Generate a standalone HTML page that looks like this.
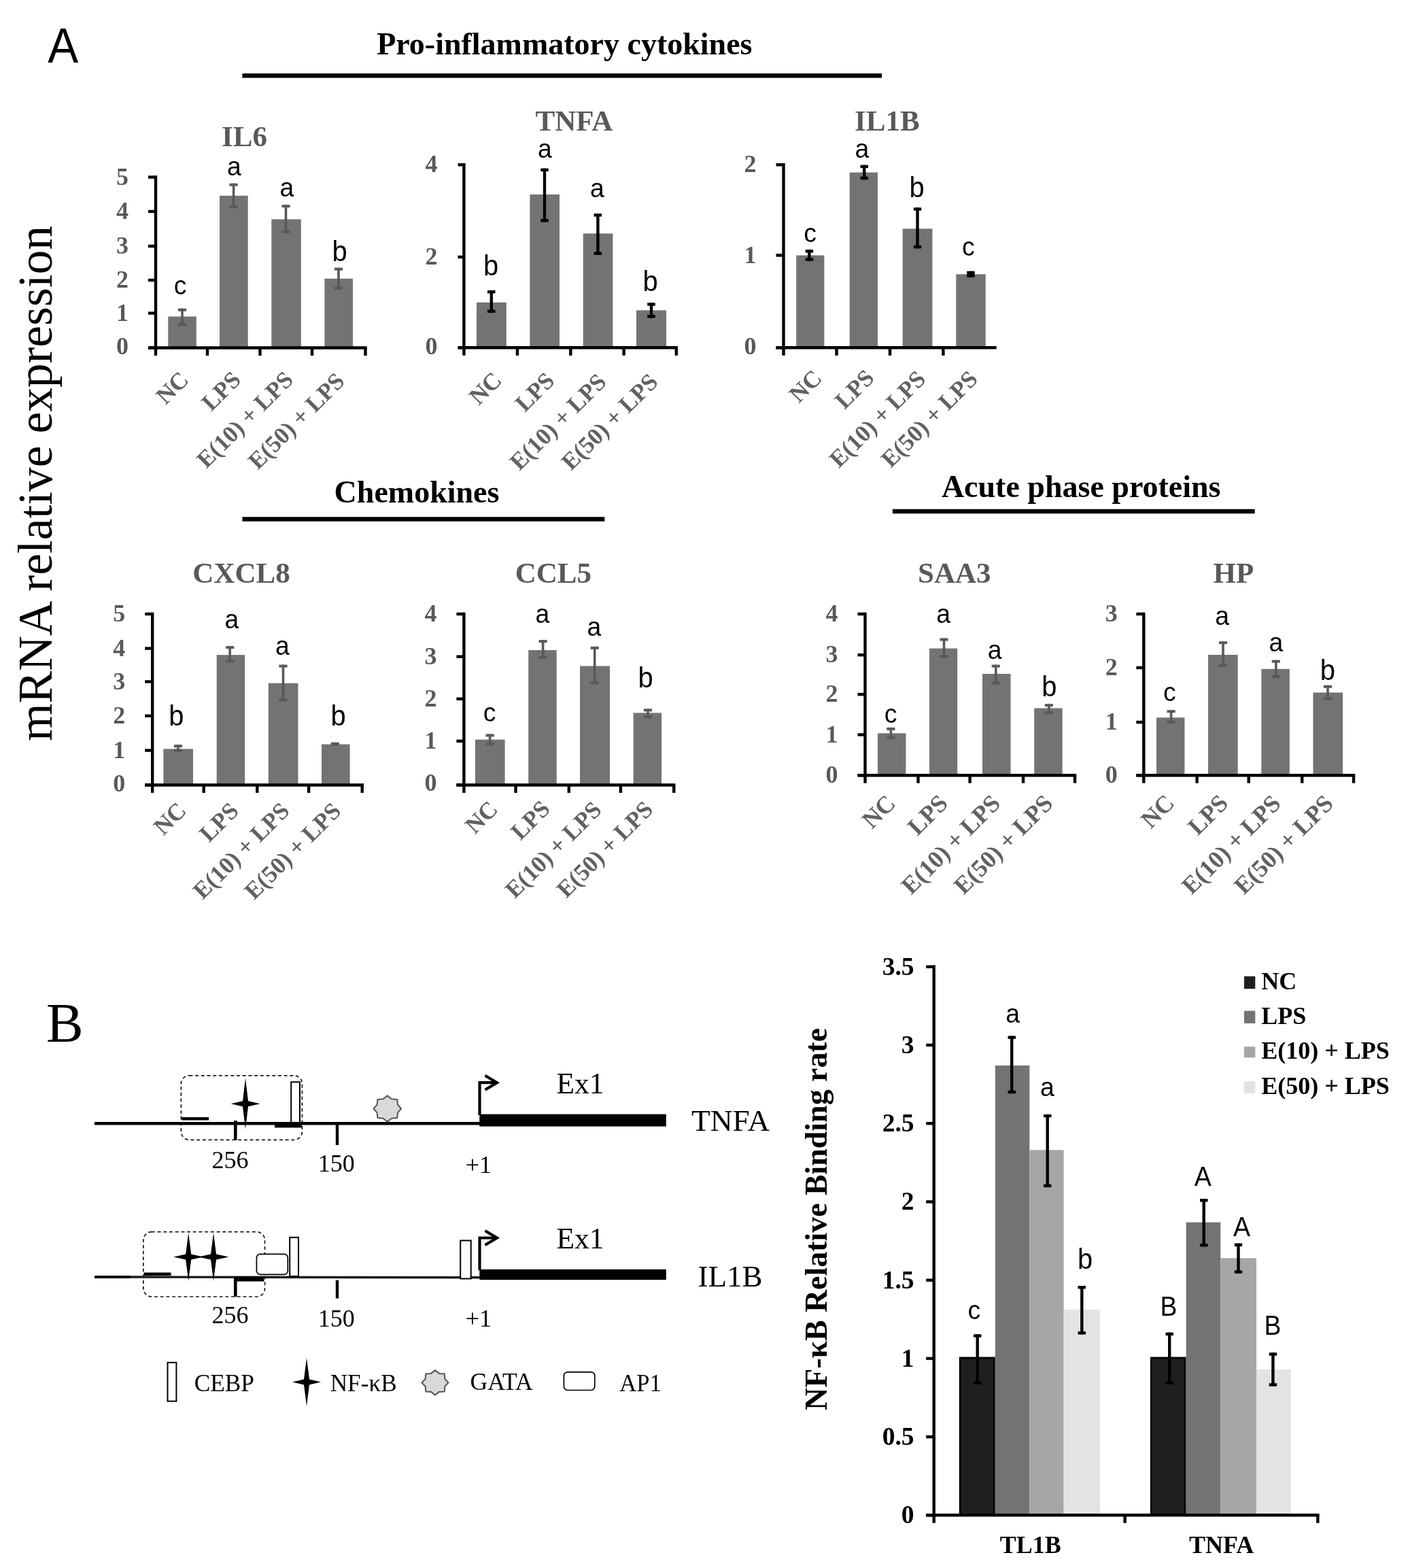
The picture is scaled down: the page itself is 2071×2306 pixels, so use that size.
<!DOCTYPE html>
<html><head><meta charset="utf-8"><title>Figure</title>
<style>html,body{margin:0;padding:0;background:#fff}svg{display:block}</style>
</head><body>
<svg width="2071" height="2306" viewBox="0 0 2071 2306">
<rect width="2071" height="2306" fill="#fff"/>
<text transform="translate(92.8,92.3) scale(0.93,1)" x="0" y="0" font-size="72.5" text-anchor="middle" font-family='"Liberation Sans", sans-serif' fill="#000">A</text>
<text x="68.0" y="1532.0" font-size="82" text-anchor="start" font-family='"Liberation Serif", serif' font-weight="normal" fill="#000" >B</text>
<text transform="translate(76.3,1090) rotate(-90)" x="0" y="0" font-size="72" textLength="758" lengthAdjust="spacingAndGlyphs" font-family='"Liberation Serif", serif' fill="#000">mRNA relative expression</text>
<text x="830.3" y="80.4" font-size="46" text-anchor="middle" font-family='"Liberation Serif", serif' font-weight="bold" fill="#000" >Pro-inflammatory cytokines</text>
<line x1="356.4" y1="111.3" x2="1297.0" y2="111.3" stroke="#000" stroke-width="6.6" />
<text x="613.0" y="739.3" font-size="46" text-anchor="middle" font-family='"Liberation Serif", serif' font-weight="bold" fill="#000" >Chemokines</text>
<line x1="356.4" y1="763.5" x2="889.3" y2="763.5" stroke="#000" stroke-width="6.6" />
<text x="1590.2" y="731.0" font-size="46" text-anchor="middle" font-family='"Liberation Serif", serif' font-weight="bold" fill="#000" >Acute phase proteins</text>
<line x1="1312.8" y1="752.0" x2="1845.7" y2="752.0" stroke="#000" stroke-width="6.6" />
<rect x="247.3" y="465.5" width="41.5" height="46.0" fill="#737373" />
<rect x="323.0" y="287.8" width="41.7" height="223.7" fill="#737373" />
<rect x="399.3" y="322.5" width="43.5" height="189.0" fill="#737373" />
<rect x="477.4" y="409.8" width="41.6" height="101.7" fill="#737373" />
<line x1="229.0" y1="258.3" x2="229.0" y2="513.7" stroke="#000" stroke-width="4.4" />
<line x1="218.0" y1="511.5" x2="539.7" y2="511.5" stroke="#000" stroke-width="4.4" />
<line x1="218.0" y1="260.5" x2="229.0" y2="260.5" stroke="#000" stroke-width="4.4" />
<text x="189.0" y="271.5" font-size="36" text-anchor="end" font-family='"Liberation Serif", serif' font-weight="bold" fill="#595959" >5</text>
<line x1="218.0" y1="311.0" x2="229.0" y2="311.0" stroke="#000" stroke-width="4.4" />
<text x="189.0" y="322.0" font-size="36" text-anchor="end" font-family='"Liberation Serif", serif' font-weight="bold" fill="#595959" >4</text>
<line x1="218.0" y1="362.0" x2="229.0" y2="362.0" stroke="#000" stroke-width="4.4" />
<text x="189.0" y="373.0" font-size="36" text-anchor="end" font-family='"Liberation Serif", serif' font-weight="bold" fill="#595959" >3</text>
<line x1="218.0" y1="412.0" x2="229.0" y2="412.0" stroke="#000" stroke-width="4.4" />
<text x="189.0" y="423.0" font-size="36" text-anchor="end" font-family='"Liberation Serif", serif' font-weight="bold" fill="#595959" >2</text>
<line x1="218.0" y1="460.6" x2="229.0" y2="460.6" stroke="#000" stroke-width="4.4" />
<text x="189.0" y="471.6" font-size="36" text-anchor="end" font-family='"Liberation Serif", serif' font-weight="bold" fill="#595959" >1</text>
<line x1="218.0" y1="511.5" x2="229.0" y2="511.5" stroke="#000" stroke-width="4.4" />
<text x="189.0" y="521.0" font-size="36" text-anchor="end" font-family='"Liberation Serif", serif' font-weight="bold" fill="#595959" >0</text>
<line x1="229.0" y1="511.5" x2="229.0" y2="523.0" stroke="#000" stroke-width="4.4" />
<line x1="305.0" y1="511.5" x2="305.0" y2="523.0" stroke="#000" stroke-width="4.4" />
<line x1="382.5" y1="511.5" x2="382.5" y2="523.0" stroke="#000" stroke-width="4.4" />
<line x1="459.0" y1="511.5" x2="459.0" y2="523.0" stroke="#000" stroke-width="4.4" />
<line x1="537.5" y1="511.5" x2="537.5" y2="523.0" stroke="#000" stroke-width="4.4" />
<line x1="268.0" y1="453.7" x2="268.0" y2="479.3" stroke="#595959" stroke-width="3.6" />
<line x1="261.9" y1="455.7" x2="274.1" y2="455.7" stroke="#595959" stroke-width="4" />
<line x1="261.9" y1="477.3" x2="274.1" y2="477.3" stroke="#595959" stroke-width="4" />
<line x1="343.6" y1="269.7" x2="343.6" y2="306.3" stroke="#595959" stroke-width="3.6" />
<line x1="337.5" y1="271.7" x2="349.7" y2="271.7" stroke="#595959" stroke-width="4" />
<line x1="337.5" y1="304.3" x2="349.7" y2="304.3" stroke="#595959" stroke-width="4" />
<line x1="420.5" y1="301.2" x2="420.5" y2="342.8" stroke="#595959" stroke-width="3.6" />
<line x1="414.4" y1="303.2" x2="426.6" y2="303.2" stroke="#595959" stroke-width="4" />
<line x1="414.4" y1="340.8" x2="426.6" y2="340.8" stroke="#595959" stroke-width="4" />
<line x1="498.0" y1="393.7" x2="498.0" y2="425.8" stroke="#595959" stroke-width="3.6" />
<line x1="491.9" y1="395.7" x2="504.1" y2="395.7" stroke="#595959" stroke-width="4" />
<line x1="491.9" y1="423.8" x2="504.1" y2="423.8" stroke="#595959" stroke-width="4" />
<text transform="translate(265.0,433.0) scale(0.97,1)" x="0" y="0" font-size="38.5" text-anchor="middle" font-family='"Liberation Sans", sans-serif' fill="#000">c</text>
<text transform="translate(344.5,258.0) scale(0.97,1)" x="0" y="0" font-size="38.5" text-anchor="middle" font-family='"Liberation Sans", sans-serif' fill="#000">a</text>
<text transform="translate(422.0,288.5) scale(0.97,1)" x="0" y="0" font-size="38.5" text-anchor="middle" font-family='"Liberation Sans", sans-serif' fill="#000">a</text>
<text transform="translate(499.5,383.5) scale(0.95,1)" x="0" y="0" font-size="42" text-anchor="middle" font-family='"Liberation Sans", sans-serif' fill="#000">b</text>
<text x="359.5" y="214.5" font-size="43" text-anchor="middle" font-family='"Liberation Serif", serif' font-weight="bold" fill="#595959" >IL6</text>
<text transform="translate(279.5,560.5) rotate(-45)" x="0" y="0" font-size="35" text-anchor="end" font-family='"Liberation Serif", serif' font-weight="bold" fill="#616161">NC</text>
<text transform="translate(356.2,560.5) rotate(-45)" x="0" y="0" font-size="35" text-anchor="end" font-family='"Liberation Serif", serif' font-weight="bold" fill="#616161">LPS</text>
<text transform="translate(433.2,560.5) rotate(-45)" x="0" y="0" font-size="35" text-anchor="end" font-family='"Liberation Serif", serif' font-weight="bold" fill="#616161">E(10) + LPS</text>
<text transform="translate(508.8,562.5) rotate(-45)" x="0" y="0" font-size="35" text-anchor="end" font-family='"Liberation Serif", serif' font-weight="bold" fill="#616161">E(50) + LPS</text>
<rect x="701.0" y="444.8" width="43.8" height="66.5" fill="#737373" />
<rect x="779.4" y="286.0" width="43.6" height="225.3" fill="#737373" />
<rect x="857.7" y="343.4" width="43.7" height="167.9" fill="#737373" />
<rect x="936.0" y="456.3" width="44.0" height="55.0" fill="#737373" />
<line x1="682.4" y1="240.1" x2="682.4" y2="513.5" stroke="#000" stroke-width="4.4" />
<line x1="673.6" y1="511.3" x2="997.0" y2="511.3" stroke="#000" stroke-width="4.4" />
<line x1="673.6" y1="242.3" x2="682.4" y2="242.3" stroke="#000" stroke-width="4.4" />
<text x="643.4" y="253.3" font-size="36" text-anchor="end" font-family='"Liberation Serif", serif' font-weight="bold" fill="#595959" >4</text>
<line x1="673.6" y1="378.0" x2="682.4" y2="378.0" stroke="#000" stroke-width="4.4" />
<text x="643.4" y="389.0" font-size="36" text-anchor="end" font-family='"Liberation Serif", serif' font-weight="bold" fill="#595959" >2</text>
<line x1="673.6" y1="511.3" x2="682.4" y2="511.3" stroke="#000" stroke-width="4.4" />
<text x="643.4" y="520.8" font-size="36" text-anchor="end" font-family='"Liberation Serif", serif' font-weight="bold" fill="#595959" >0</text>
<line x1="682.4" y1="511.3" x2="682.4" y2="522.8" stroke="#000" stroke-width="4.4" />
<line x1="761.0" y1="511.3" x2="761.0" y2="522.8" stroke="#000" stroke-width="4.4" />
<line x1="839.3" y1="511.3" x2="839.3" y2="522.8" stroke="#000" stroke-width="4.4" />
<line x1="917.6" y1="511.3" x2="917.6" y2="522.8" stroke="#000" stroke-width="4.4" />
<line x1="994.8" y1="511.3" x2="994.8" y2="522.8" stroke="#000" stroke-width="4.4" />
<line x1="722.8" y1="427.0" x2="722.8" y2="460.0" stroke="#000" stroke-width="4.4" />
<line x1="717.0" y1="429.2" x2="728.5" y2="429.2" stroke="#000" stroke-width="4.4" />
<line x1="717.0" y1="457.8" x2="728.5" y2="457.8" stroke="#000" stroke-width="4.4" />
<line x1="801.0" y1="247.7" x2="801.0" y2="326.5" stroke="#000" stroke-width="4.4" />
<line x1="795.2" y1="249.9" x2="806.8" y2="249.9" stroke="#000" stroke-width="4.4" />
<line x1="795.2" y1="324.3" x2="806.8" y2="324.3" stroke="#000" stroke-width="4.4" />
<line x1="879.4" y1="314.1" x2="879.4" y2="374.9" stroke="#000" stroke-width="4.4" />
<line x1="873.6" y1="316.3" x2="885.1" y2="316.3" stroke="#000" stroke-width="4.4" />
<line x1="873.6" y1="372.7" x2="885.1" y2="372.7" stroke="#000" stroke-width="4.4" />
<line x1="958.0" y1="445.3" x2="958.0" y2="467.5" stroke="#000" stroke-width="4.4" />
<line x1="952.2" y1="447.5" x2="963.8" y2="447.5" stroke="#000" stroke-width="4.4" />
<line x1="952.2" y1="465.3" x2="963.8" y2="465.3" stroke="#000" stroke-width="4.4" />
<text transform="translate(722.0,404.5) scale(0.95,1)" x="0" y="0" font-size="42" text-anchor="middle" font-family='"Liberation Sans", sans-serif' fill="#000">b</text>
<text transform="translate(801.5,232.4) scale(0.97,1)" x="0" y="0" font-size="38.5" text-anchor="middle" font-family='"Liberation Sans", sans-serif' fill="#000">a</text>
<text transform="translate(878.5,289.6) scale(0.97,1)" x="0" y="0" font-size="38.5" text-anchor="middle" font-family='"Liberation Sans", sans-serif' fill="#000">a</text>
<text transform="translate(956.5,427.5) scale(0.95,1)" x="0" y="0" font-size="42" text-anchor="middle" font-family='"Liberation Sans", sans-serif' fill="#000">b</text>
<text x="844.5" y="191.5" font-size="43" text-anchor="middle" font-family='"Liberation Serif", serif' font-weight="bold" fill="#595959" >TNFA</text>
<text transform="translate(739.9,561.3) rotate(-45)" x="0" y="0" font-size="35" text-anchor="end" font-family='"Liberation Serif", serif' font-weight="bold" fill="#616161">NC</text>
<text transform="translate(817.4,561.9) rotate(-45)" x="0" y="0" font-size="35" text-anchor="end" font-family='"Liberation Serif", serif' font-weight="bold" fill="#616161">LPS</text>
<text transform="translate(893.7,563.7) rotate(-45)" x="0" y="0" font-size="35" text-anchor="end" font-family='"Liberation Serif", serif' font-weight="bold" fill="#616161">E(10) + LPS</text>
<text transform="translate(969.7,563.7) rotate(-45)" x="0" y="0" font-size="35" text-anchor="end" font-family='"Liberation Serif", serif' font-weight="bold" fill="#616161">E(50) + LPS</text>
<rect x="1171.2" y="375.5" width="41.2" height="135.8" fill="#737373" />
<rect x="1249.7" y="253.6" width="41.3" height="257.7" fill="#737373" />
<rect x="1327.7" y="336.3" width="43.7" height="175.0" fill="#737373" />
<rect x="1406.3" y="403.3" width="43.4" height="108.0" fill="#737373" />
<line x1="1152.5" y1="240.1" x2="1152.5" y2="513.5" stroke="#000" stroke-width="4.4" />
<line x1="1141.5" y1="511.3" x2="1465.7" y2="511.3" stroke="#000" stroke-width="4.4" />
<line x1="1141.5" y1="242.3" x2="1152.5" y2="242.3" stroke="#000" stroke-width="4.4" />
<text x="1112.5" y="253.3" font-size="36" text-anchor="end" font-family='"Liberation Serif", serif' font-weight="bold" fill="#595959" >2</text>
<line x1="1141.5" y1="375.5" x2="1152.5" y2="375.5" stroke="#000" stroke-width="4.4" />
<text x="1112.5" y="386.5" font-size="36" text-anchor="end" font-family='"Liberation Serif", serif' font-weight="bold" fill="#595959" >1</text>
<line x1="1141.5" y1="511.3" x2="1152.5" y2="511.3" stroke="#000" stroke-width="4.4" />
<text x="1112.5" y="520.8" font-size="36" text-anchor="end" font-family='"Liberation Serif", serif' font-weight="bold" fill="#595959" >0</text>
<line x1="1152.5" y1="511.3" x2="1152.5" y2="522.8" stroke="#000" stroke-width="4.4" />
<line x1="1230.5" y1="511.3" x2="1230.5" y2="522.8" stroke="#000" stroke-width="4.4" />
<line x1="1309.0" y1="511.3" x2="1309.0" y2="522.8" stroke="#000" stroke-width="4.4" />
<line x1="1387.4" y1="511.3" x2="1387.4" y2="522.8" stroke="#000" stroke-width="4.4" />
<line x1="1190.4" y1="367.2" x2="1190.4" y2="383.7" stroke="#000" stroke-width="4.4" />
<line x1="1184.7" y1="369.4" x2="1196.2" y2="369.4" stroke="#000" stroke-width="4.4" />
<line x1="1184.7" y1="381.5" x2="1196.2" y2="381.5" stroke="#000" stroke-width="4.4" />
<line x1="1271.2" y1="242.7" x2="1271.2" y2="264.2" stroke="#000" stroke-width="4.4" />
<line x1="1265.5" y1="244.9" x2="1277.0" y2="244.9" stroke="#000" stroke-width="4.4" />
<line x1="1265.5" y1="262.0" x2="1277.0" y2="262.0" stroke="#000" stroke-width="4.4" />
<line x1="1349.5" y1="305.3" x2="1349.5" y2="365.3" stroke="#000" stroke-width="4.4" />
<line x1="1343.8" y1="307.5" x2="1355.2" y2="307.5" stroke="#000" stroke-width="4.4" />
<line x1="1343.8" y1="363.1" x2="1355.2" y2="363.1" stroke="#000" stroke-width="4.4" />
<line x1="1428.0" y1="398.8" x2="1428.0" y2="407.7" stroke="#000" stroke-width="4.4" />
<line x1="1422.2" y1="401.0" x2="1433.8" y2="401.0" stroke="#000" stroke-width="4.4" />
<line x1="1422.2" y1="405.5" x2="1433.8" y2="405.5" stroke="#000" stroke-width="4.4" />
<text transform="translate(1191.5,356.0) scale(0.97,1)" x="0" y="0" font-size="38.5" text-anchor="middle" font-family='"Liberation Sans", sans-serif' fill="#000">c</text>
<text transform="translate(1267.9,232.4) scale(0.97,1)" x="0" y="0" font-size="38.5" text-anchor="middle" font-family='"Liberation Sans", sans-serif' fill="#000">a</text>
<text transform="translate(1348.6,289.6) scale(0.95,1)" x="0" y="0" font-size="42" text-anchor="middle" font-family='"Liberation Sans", sans-serif' fill="#000">b</text>
<text transform="translate(1424.2,375.5) scale(0.97,1)" x="0" y="0" font-size="38.5" text-anchor="middle" font-family='"Liberation Sans", sans-serif' fill="#000">c</text>
<text x="1304.8" y="191.5" font-size="43" text-anchor="middle" font-family='"Liberation Serif", serif' font-weight="bold" fill="#595959" >IL1B</text>
<text transform="translate(1210.8,558.1) rotate(-45)" x="0" y="0" font-size="35" text-anchor="end" font-family='"Liberation Serif", serif' font-weight="bold" fill="#616161">NC</text>
<text transform="translate(1287.7,557.8) rotate(-45)" x="0" y="0" font-size="35" text-anchor="end" font-family='"Liberation Serif", serif' font-weight="bold" fill="#616161">LPS</text>
<text transform="translate(1363.5,559.6) rotate(-45)" x="0" y="0" font-size="35" text-anchor="end" font-family='"Liberation Serif", serif' font-weight="bold" fill="#616161">E(10) + LPS</text>
<text transform="translate(1439.9,559.6) rotate(-45)" x="0" y="0" font-size="35" text-anchor="end" font-family='"Liberation Serif", serif' font-weight="bold" fill="#616161">E(50) + LPS</text>
<rect x="240.4" y="1101.4" width="43.6" height="53.1" fill="#737373" />
<rect x="318.7" y="963.2" width="41.5" height="191.3" fill="#737373" />
<rect x="394.8" y="1004.7" width="43.7" height="149.8" fill="#737373" />
<rect x="473.0" y="1094.6" width="41.6" height="59.9" fill="#737373" />
<line x1="224.2" y1="900.8" x2="224.2" y2="1156.7" stroke="#000" stroke-width="4.4" />
<line x1="213.2" y1="1154.5" x2="534.9" y2="1154.5" stroke="#000" stroke-width="4.4" />
<line x1="213.2" y1="903.0" x2="224.2" y2="903.0" stroke="#000" stroke-width="4.4" />
<text x="184.3" y="914.0" font-size="36" text-anchor="end" font-family='"Liberation Serif", serif' font-weight="bold" fill="#595959" >5</text>
<line x1="213.2" y1="953.6" x2="224.2" y2="953.6" stroke="#000" stroke-width="4.4" />
<text x="184.3" y="964.6" font-size="36" text-anchor="end" font-family='"Liberation Serif", serif' font-weight="bold" fill="#595959" >4</text>
<line x1="213.2" y1="1002.5" x2="224.2" y2="1002.5" stroke="#000" stroke-width="4.4" />
<text x="184.3" y="1013.5" font-size="36" text-anchor="end" font-family='"Liberation Serif", serif' font-weight="bold" fill="#595959" >3</text>
<line x1="213.2" y1="1052.8" x2="224.2" y2="1052.8" stroke="#000" stroke-width="4.4" />
<text x="184.3" y="1063.8" font-size="36" text-anchor="end" font-family='"Liberation Serif", serif' font-weight="bold" fill="#595959" >2</text>
<line x1="213.2" y1="1103.6" x2="224.2" y2="1103.6" stroke="#000" stroke-width="4.4" />
<text x="184.3" y="1114.6" font-size="36" text-anchor="end" font-family='"Liberation Serif", serif' font-weight="bold" fill="#595959" >1</text>
<line x1="213.2" y1="1154.5" x2="224.2" y2="1154.5" stroke="#000" stroke-width="4.4" />
<text x="184.3" y="1164.0" font-size="36" text-anchor="end" font-family='"Liberation Serif", serif' font-weight="bold" fill="#595959" >0</text>
<line x1="224.2" y1="1154.5" x2="224.2" y2="1166.0" stroke="#000" stroke-width="4.4" />
<line x1="299.7" y1="1154.5" x2="299.7" y2="1166.0" stroke="#000" stroke-width="4.4" />
<line x1="378.3" y1="1154.5" x2="378.3" y2="1166.0" stroke="#000" stroke-width="4.4" />
<line x1="454.1" y1="1154.5" x2="454.1" y2="1166.0" stroke="#000" stroke-width="4.4" />
<line x1="532.7" y1="1154.5" x2="532.7" y2="1166.0" stroke="#000" stroke-width="4.4" />
<line x1="262.0" y1="1095.2" x2="262.0" y2="1105.8" stroke="#595959" stroke-width="3.6" />
<line x1="255.9" y1="1097.2" x2="268.1" y2="1097.2" stroke="#595959" stroke-width="4" />
<line x1="255.9" y1="1103.8" x2="268.1" y2="1103.8" stroke="#595959" stroke-width="4" />
<line x1="338.2" y1="950.1" x2="338.2" y2="974.5" stroke="#595959" stroke-width="3.6" />
<line x1="332.1" y1="952.1" x2="344.3" y2="952.1" stroke="#595959" stroke-width="4" />
<line x1="332.1" y1="972.5" x2="344.3" y2="972.5" stroke="#595959" stroke-width="4" />
<line x1="416.5" y1="977.6" x2="416.5" y2="1031.6" stroke="#595959" stroke-width="3.6" />
<line x1="410.4" y1="979.6" x2="422.6" y2="979.6" stroke="#595959" stroke-width="4" />
<line x1="410.4" y1="1029.6" x2="422.6" y2="1029.6" stroke="#595959" stroke-width="4" />
<line x1="492.9" y1="1091.8" x2="492.9" y2="1096.8" stroke="#595959" stroke-width="3.6" />
<line x1="486.8" y1="1093.8" x2="499.0" y2="1093.8" stroke="#595959" stroke-width="4" />
<line x1="486.8" y1="1094.8" x2="499.0" y2="1094.8" stroke="#595959" stroke-width="4" />
<text transform="translate(259.3,1066.5) scale(0.95,1)" x="0" y="0" font-size="42" text-anchor="middle" font-family='"Liberation Sans", sans-serif' fill="#000">b</text>
<text transform="translate(341.0,923.7) scale(0.97,1)" x="0" y="0" font-size="38.5" text-anchor="middle" font-family='"Liberation Sans", sans-serif' fill="#000">a</text>
<text transform="translate(415.4,962.7) scale(0.97,1)" x="0" y="0" font-size="38.5" text-anchor="middle" font-family='"Liberation Sans", sans-serif' fill="#000">a</text>
<text transform="translate(497.5,1066.5) scale(0.95,1)" x="0" y="0" font-size="42" text-anchor="middle" font-family='"Liberation Sans", sans-serif' fill="#000">b</text>
<text x="355.0" y="857.0" font-size="43" text-anchor="middle" font-family='"Liberation Serif", serif' font-weight="bold" fill="#595959" >CXCL8</text>
<text transform="translate(275.9,1194.0) rotate(-45)" x="0" y="0" font-size="35" text-anchor="end" font-family='"Liberation Serif", serif' font-weight="bold" fill="#616161">NC</text>
<text transform="translate(353.0,1194.5) rotate(-45)" x="0" y="0" font-size="35" text-anchor="end" font-family='"Liberation Serif", serif' font-weight="bold" fill="#616161">LPS</text>
<text transform="translate(427.7,1194.5) rotate(-45)" x="0" y="0" font-size="35" text-anchor="end" font-family='"Liberation Serif", serif' font-weight="bold" fill="#616161">E(10) + LPS</text>
<text transform="translate(503.4,1194.8) rotate(-45)" x="0" y="0" font-size="35" text-anchor="end" font-family='"Liberation Serif", serif' font-weight="bold" fill="#616161">E(50) + LPS</text>
<rect x="698.9" y="1087.7" width="43.7" height="66.8" fill="#737373" />
<rect x="777.2" y="956.1" width="41.5" height="198.4" fill="#737373" />
<rect x="853.0" y="979.5" width="44.0" height="175.0" fill="#737373" />
<rect x="931.6" y="1048.4" width="41.5" height="106.1" fill="#737373" />
<line x1="682.4" y1="900.8" x2="682.4" y2="1156.7" stroke="#000" stroke-width="4.4" />
<line x1="671.4" y1="1154.5" x2="993.4" y2="1154.5" stroke="#000" stroke-width="4.4" />
<line x1="671.4" y1="903.0" x2="682.4" y2="903.0" stroke="#000" stroke-width="4.4" />
<text x="642.6" y="914.0" font-size="36" text-anchor="end" font-family='"Liberation Serif", serif' font-weight="bold" fill="#595959" >4</text>
<line x1="671.4" y1="965.7" x2="682.4" y2="965.7" stroke="#000" stroke-width="4.4" />
<text x="642.6" y="976.7" font-size="36" text-anchor="end" font-family='"Liberation Serif", serif' font-weight="bold" fill="#595959" >3</text>
<line x1="671.4" y1="1027.8" x2="682.4" y2="1027.8" stroke="#000" stroke-width="4.4" />
<text x="642.6" y="1038.8" font-size="36" text-anchor="end" font-family='"Liberation Serif", serif' font-weight="bold" fill="#595959" >2</text>
<line x1="671.4" y1="1089.9" x2="682.4" y2="1089.9" stroke="#000" stroke-width="4.4" />
<text x="642.6" y="1100.9" font-size="36" text-anchor="end" font-family='"Liberation Serif", serif' font-weight="bold" fill="#595959" >1</text>
<line x1="671.4" y1="1154.5" x2="682.4" y2="1154.5" stroke="#000" stroke-width="4.4" />
<text x="642.6" y="1163.0" font-size="36" text-anchor="end" font-family='"Liberation Serif", serif' font-weight="bold" fill="#595959" >0</text>
<line x1="682.4" y1="1154.5" x2="682.4" y2="1166.0" stroke="#000" stroke-width="4.4" />
<line x1="758.5" y1="1154.5" x2="758.5" y2="1166.0" stroke="#000" stroke-width="4.4" />
<line x1="836.8" y1="1154.5" x2="836.8" y2="1166.0" stroke="#000" stroke-width="4.4" />
<line x1="912.9" y1="1154.5" x2="912.9" y2="1166.0" stroke="#000" stroke-width="4.4" />
<line x1="991.2" y1="1154.5" x2="991.2" y2="1166.0" stroke="#000" stroke-width="4.4" />
<line x1="720.6" y1="1079.5" x2="720.6" y2="1096.2" stroke="#595959" stroke-width="3.6" />
<line x1="714.5" y1="1081.5" x2="726.7" y2="1081.5" stroke="#595959" stroke-width="4" />
<line x1="714.5" y1="1094.2" x2="726.7" y2="1094.2" stroke="#595959" stroke-width="4" />
<line x1="798.6" y1="941.2" x2="798.6" y2="969.0" stroke="#595959" stroke-width="3.6" />
<line x1="792.5" y1="943.2" x2="804.7" y2="943.2" stroke="#595959" stroke-width="4" />
<line x1="792.5" y1="967.0" x2="804.7" y2="967.0" stroke="#595959" stroke-width="4" />
<line x1="874.7" y1="950.9" x2="874.7" y2="1006.1" stroke="#595959" stroke-width="3.6" />
<line x1="868.6" y1="952.9" x2="880.8" y2="952.9" stroke="#595959" stroke-width="4" />
<line x1="868.6" y1="1004.1" x2="880.8" y2="1004.1" stroke="#595959" stroke-width="4" />
<line x1="953.0" y1="1042.4" x2="953.0" y2="1056.3" stroke="#595959" stroke-width="3.6" />
<line x1="946.9" y1="1044.4" x2="959.1" y2="1044.4" stroke="#595959" stroke-width="4" />
<line x1="946.9" y1="1054.3" x2="959.1" y2="1054.3" stroke="#595959" stroke-width="4" />
<text transform="translate(720.0,1061.0) scale(0.97,1)" x="0" y="0" font-size="38.5" text-anchor="middle" font-family='"Liberation Sans", sans-serif' fill="#000">c</text>
<text transform="translate(797.8,916.0) scale(0.97,1)" x="0" y="0" font-size="38.5" text-anchor="middle" font-family='"Liberation Sans", sans-serif' fill="#000">a</text>
<text transform="translate(873.9,935.2) scale(0.97,1)" x="0" y="0" font-size="38.5" text-anchor="middle" font-family='"Liberation Sans", sans-serif' fill="#000">a</text>
<text transform="translate(949.7,1010.8) scale(0.95,1)" x="0" y="0" font-size="42" text-anchor="middle" font-family='"Liberation Sans", sans-serif' fill="#000">b</text>
<text x="813.9" y="857.0" font-size="43" text-anchor="middle" font-family='"Liberation Serif", serif' font-weight="bold" fill="#595959" >CCL5</text>
<text transform="translate(734.2,1192.0) rotate(-45)" x="0" y="0" font-size="35" text-anchor="end" font-family='"Liberation Serif", serif' font-weight="bold" fill="#616161">NC</text>
<text transform="translate(810.9,1191.5) rotate(-45)" x="0" y="0" font-size="35" text-anchor="end" font-family='"Liberation Serif", serif' font-weight="bold" fill="#616161">LPS</text>
<text transform="translate(886.8,1193.0) rotate(-45)" x="0" y="0" font-size="35" text-anchor="end" font-family='"Liberation Serif", serif' font-weight="bold" fill="#616161">E(10) + LPS</text>
<text transform="translate(962.5,1192.5) rotate(-45)" x="0" y="0" font-size="35" text-anchor="end" font-family='"Liberation Serif", serif' font-weight="bold" fill="#616161">E(50) + LPS</text>
<rect x="1291.0" y="1078.4" width="41.4" height="61.8" fill="#737373" />
<rect x="1367.0" y="953.6" width="41.2" height="186.6" fill="#737373" />
<rect x="1445.0" y="991.0" width="41.5" height="149.2" fill="#737373" />
<rect x="1521.2" y="1041.5" width="41.4" height="98.7" fill="#737373" />
<line x1="1272.5" y1="900.8" x2="1272.5" y2="1142.4" stroke="#000" stroke-width="4.4" />
<line x1="1261.5" y1="1140.2" x2="1583.2" y2="1140.2" stroke="#000" stroke-width="4.4" />
<line x1="1261.5" y1="903.0" x2="1272.5" y2="903.0" stroke="#000" stroke-width="4.4" />
<text x="1232.4" y="914.0" font-size="36" text-anchor="end" font-family='"Liberation Serif", serif' font-weight="bold" fill="#595959" >4</text>
<line x1="1261.5" y1="963.2" x2="1272.5" y2="963.2" stroke="#000" stroke-width="4.4" />
<text x="1232.4" y="974.2" font-size="36" text-anchor="end" font-family='"Liberation Serif", serif' font-weight="bold" fill="#595959" >3</text>
<line x1="1261.5" y1="1021.2" x2="1272.5" y2="1021.2" stroke="#000" stroke-width="4.4" />
<text x="1232.4" y="1032.2" font-size="36" text-anchor="end" font-family='"Liberation Serif", serif' font-weight="bold" fill="#595959" >2</text>
<line x1="1261.5" y1="1080.5" x2="1272.5" y2="1080.5" stroke="#000" stroke-width="4.4" />
<text x="1232.4" y="1091.5" font-size="36" text-anchor="end" font-family='"Liberation Serif", serif' font-weight="bold" fill="#595959" >1</text>
<line x1="1261.5" y1="1140.2" x2="1272.5" y2="1140.2" stroke="#000" stroke-width="4.4" />
<text x="1232.4" y="1150.9" font-size="36" text-anchor="end" font-family='"Liberation Serif", serif' font-weight="bold" fill="#595959" >0</text>
<line x1="1272.5" y1="1140.2" x2="1272.5" y2="1151.7" stroke="#000" stroke-width="4.4" />
<line x1="1350.5" y1="1140.2" x2="1350.5" y2="1151.7" stroke="#000" stroke-width="4.4" />
<line x1="1426.6" y1="1140.2" x2="1426.6" y2="1151.7" stroke="#000" stroke-width="4.4" />
<line x1="1505.0" y1="1140.2" x2="1505.0" y2="1151.7" stroke="#000" stroke-width="4.4" />
<line x1="1581.0" y1="1140.2" x2="1581.0" y2="1151.7" stroke="#000" stroke-width="4.4" />
<line x1="1310.4" y1="1069.9" x2="1310.4" y2="1087.1" stroke="#595959" stroke-width="3.6" />
<line x1="1304.3" y1="1071.9" x2="1316.5" y2="1071.9" stroke="#595959" stroke-width="4" />
<line x1="1304.3" y1="1085.1" x2="1316.5" y2="1085.1" stroke="#595959" stroke-width="4" />
<line x1="1388.5" y1="938.5" x2="1388.5" y2="967.6" stroke="#595959" stroke-width="3.6" />
<line x1="1382.4" y1="940.5" x2="1394.6" y2="940.5" stroke="#595959" stroke-width="4" />
<line x1="1382.4" y1="965.6" x2="1394.6" y2="965.6" stroke="#595959" stroke-width="4" />
<line x1="1464.8" y1="977.6" x2="1464.8" y2="1006.6" stroke="#595959" stroke-width="3.6" />
<line x1="1458.7" y1="979.6" x2="1470.9" y2="979.6" stroke="#595959" stroke-width="4" />
<line x1="1458.7" y1="1004.6" x2="1470.9" y2="1004.6" stroke="#595959" stroke-width="4" />
<line x1="1542.9" y1="1035.2" x2="1542.9" y2="1050.0" stroke="#595959" stroke-width="3.6" />
<line x1="1536.8" y1="1037.2" x2="1549.0" y2="1037.2" stroke="#595959" stroke-width="4" />
<line x1="1536.8" y1="1048.0" x2="1549.0" y2="1048.0" stroke="#595959" stroke-width="4" />
<text transform="translate(1310.0,1063.0) scale(0.97,1)" x="0" y="0" font-size="38.5" text-anchor="middle" font-family='"Liberation Sans", sans-serif' fill="#000">c</text>
<text transform="translate(1387.6,916.0) scale(0.97,1)" x="0" y="0" font-size="38.5" text-anchor="middle" font-family='"Liberation Sans", sans-serif' fill="#000">a</text>
<text transform="translate(1463.2,969.0) scale(0.97,1)" x="0" y="0" font-size="38.5" text-anchor="middle" font-family='"Liberation Sans", sans-serif' fill="#000">a</text>
<text transform="translate(1543.4,1024.0) scale(0.95,1)" x="0" y="0" font-size="42" text-anchor="middle" font-family='"Liberation Sans", sans-serif' fill="#000">b</text>
<text x="1403.8" y="857.0" font-size="43" text-anchor="middle" font-family='"Liberation Serif", serif' font-weight="bold" fill="#595959" >SAA3</text>
<text transform="translate(1319.2,1183.6) rotate(-45)" x="0" y="0" font-size="36" text-anchor="end" font-family='"Liberation Serif", serif' font-weight="bold" fill="#616161">NC</text>
<text transform="translate(1396.2,1183.6) rotate(-45)" x="0" y="0" font-size="36" text-anchor="end" font-family='"Liberation Serif", serif' font-weight="bold" fill="#616161">LPS</text>
<text transform="translate(1473.5,1183.6) rotate(-45)" x="0" y="0" font-size="36" text-anchor="end" font-family='"Liberation Serif", serif' font-weight="bold" fill="#616161">E(10) + LPS</text>
<text transform="translate(1550.7,1183.6) rotate(-45)" x="0" y="0" font-size="36" text-anchor="end" font-family='"Liberation Serif", serif' font-weight="bold" fill="#616161">E(50) + LPS</text>
<rect x="1701.0" y="1055.3" width="41.4" height="84.9" fill="#737373" />
<rect x="1777.0" y="963.0" width="43.7" height="177.2" fill="#737373" />
<rect x="1855.3" y="983.8" width="41.5" height="156.4" fill="#737373" />
<rect x="1931.4" y="1018.5" width="43.6" height="121.7" fill="#737373" />
<line x1="1682.3" y1="900.8" x2="1682.3" y2="1142.4" stroke="#000" stroke-width="4.4" />
<line x1="1671.3" y1="1140.2" x2="1993.2" y2="1140.2" stroke="#000" stroke-width="4.4" />
<line x1="1671.3" y1="903.0" x2="1682.3" y2="903.0" stroke="#000" stroke-width="4.4" />
<text x="1643.8" y="914.0" font-size="36" text-anchor="end" font-family='"Liberation Serif", serif' font-weight="bold" fill="#595959" >3</text>
<line x1="1671.3" y1="982.0" x2="1682.3" y2="982.0" stroke="#000" stroke-width="4.4" />
<text x="1643.8" y="993.0" font-size="36" text-anchor="end" font-family='"Liberation Serif", serif' font-weight="bold" fill="#595959" >2</text>
<line x1="1671.3" y1="1062.1" x2="1682.3" y2="1062.1" stroke="#000" stroke-width="4.4" />
<text x="1643.8" y="1073.1" font-size="36" text-anchor="end" font-family='"Liberation Serif", serif' font-weight="bold" fill="#595959" >1</text>
<line x1="1671.3" y1="1140.2" x2="1682.3" y2="1140.2" stroke="#000" stroke-width="4.4" />
<text x="1643.8" y="1150.9" font-size="36" text-anchor="end" font-family='"Liberation Serif", serif' font-weight="bold" fill="#595959" >0</text>
<line x1="1682.3" y1="1140.2" x2="1682.3" y2="1151.7" stroke="#000" stroke-width="4.4" />
<line x1="1760.6" y1="1140.2" x2="1760.6" y2="1151.7" stroke="#000" stroke-width="4.4" />
<line x1="1836.7" y1="1140.2" x2="1836.7" y2="1151.7" stroke="#000" stroke-width="4.4" />
<line x1="1915.2" y1="1140.2" x2="1915.2" y2="1151.7" stroke="#000" stroke-width="4.4" />
<line x1="1991.0" y1="1140.2" x2="1991.0" y2="1151.7" stroke="#000" stroke-width="4.4" />
<line x1="1722.6" y1="1044.2" x2="1722.6" y2="1063.8" stroke="#595959" stroke-width="3.6" />
<line x1="1716.5" y1="1046.2" x2="1728.7" y2="1046.2" stroke="#595959" stroke-width="4" />
<line x1="1716.5" y1="1061.8" x2="1728.7" y2="1061.8" stroke="#595959" stroke-width="4" />
<line x1="1799.0" y1="943.2" x2="1799.0" y2="980.8" stroke="#595959" stroke-width="3.6" />
<line x1="1792.9" y1="945.2" x2="1805.1" y2="945.2" stroke="#595959" stroke-width="4" />
<line x1="1792.9" y1="978.8" x2="1805.1" y2="978.8" stroke="#595959" stroke-width="4" />
<line x1="1876.8" y1="970.7" x2="1876.8" y2="997.0" stroke="#595959" stroke-width="3.6" />
<line x1="1870.7" y1="972.7" x2="1882.9" y2="972.7" stroke="#595959" stroke-width="4" />
<line x1="1870.7" y1="995.0" x2="1882.9" y2="995.0" stroke="#595959" stroke-width="4" />
<line x1="1953.0" y1="1007.8" x2="1953.0" y2="1029.4" stroke="#595959" stroke-width="3.6" />
<line x1="1946.9" y1="1009.8" x2="1959.1" y2="1009.8" stroke="#595959" stroke-width="4" />
<line x1="1946.9" y1="1027.4" x2="1959.1" y2="1027.4" stroke="#595959" stroke-width="4" />
<text transform="translate(1720.2,1030.8) scale(0.97,1)" x="0" y="0" font-size="38.5" text-anchor="middle" font-family='"Liberation Sans", sans-serif' fill="#000">c</text>
<text transform="translate(1797.6,918.7) scale(0.97,1)" x="0" y="0" font-size="38.5" text-anchor="middle" font-family='"Liberation Sans", sans-serif' fill="#000">a</text>
<text transform="translate(1876.8,958.0) scale(0.97,1)" x="0" y="0" font-size="38.5" text-anchor="middle" font-family='"Liberation Sans", sans-serif' fill="#000">a</text>
<text transform="translate(1952.9,999.8) scale(0.95,1)" x="0" y="0" font-size="42" text-anchor="middle" font-family='"Liberation Sans", sans-serif' fill="#000">b</text>
<text x="1814.4" y="857.0" font-size="43" text-anchor="middle" font-family='"Liberation Serif", serif' font-weight="bold" fill="#595959" >HP</text>
<text transform="translate(1729.4,1183.2) rotate(-45)" x="0" y="0" font-size="36" text-anchor="end" font-family='"Liberation Serif", serif' font-weight="bold" fill="#616161">NC</text>
<text transform="translate(1808.4,1183.4) rotate(-45)" x="0" y="0" font-size="36" text-anchor="end" font-family='"Liberation Serif", serif' font-weight="bold" fill="#616161">LPS</text>
<text transform="translate(1886.0,1183.8) rotate(-45)" x="0" y="0" font-size="36" text-anchor="end" font-family='"Liberation Serif", serif' font-weight="bold" fill="#616161">E(10) + LPS</text>
<text transform="translate(1963.1,1183.8) rotate(-45)" x="0" y="0" font-size="36" text-anchor="end" font-family='"Liberation Serif", serif' font-weight="bold" fill="#616161">E(50) + LPS</text>
<rect x="266.4" y="1581.8" width="178.0" height="94.5" rx="12" fill="none" stroke="#1a1a1a" stroke-width="1.7" stroke-dasharray="5 3.7"/>
<line x1="139.0" y1="1652.2" x2="706.0" y2="1652.2" stroke="#000" stroke-width="4.5" />
<rect x="705.3" y="1638.6" width="274.5" height="18.0" fill="#000" />
<line x1="267.3" y1="1645.2" x2="307.1" y2="1645.2" stroke="#000" stroke-width="4.5" />
<line x1="346.3" y1="1648.0" x2="346.3" y2="1676.7" stroke="#000" stroke-width="4.6" />
<path d="M361,1585.8 L365.0,1619.3 L382.5,1623.3 L365.0,1627.3 L361,1660.8 L357.0,1627.3 L339.5,1623.3 L357.0,1619.3 Z" fill="#000"/>
<rect x="428.2" y="1591.3" width="12.8" height="59.7" rx="0" fill="#fff" stroke="#000" stroke-width="2" />
<rect x="404.0" y="1650.0" width="39.8" height="8.4" fill="#000" />
<line x1="496.0" y1="1652.0" x2="496.0" y2="1684.0" stroke="#000" stroke-width="4.4" />
<polygon points="569.8,1611.4 563.5,1616.2 555.4,1617.0 554.6,1624.6 549.5,1630.5 554.6,1636.4 555.4,1644.0 563.5,1644.8 569.8,1649.6 576.1,1644.8 584.2,1644.0 585.0,1636.4 590.1,1630.5 585.0,1624.6 584.2,1617.0 576.1,1616.2" fill="#d9d9d9" stroke="#555" stroke-width="2" stroke-linejoin="round"/>
<path d="M705.5,1640 V1592.2 H729.5" fill="none" stroke="#000" stroke-width="4.2"/>
<path d="M713.5,1581.7 L731.0,1592.2 L713.5,1602.7" fill="none" stroke="#000" stroke-width="4.2" stroke-linejoin="miter"/>
<text x="818.5" y="1608.0" font-size="43.5" text-anchor="start" font-family='"Liberation Serif", serif' font-weight="normal" fill="#000" >Ex1</text>
<text x="1017.1" y="1663.3" font-size="45" text-anchor="start" font-family='"Liberation Serif", serif' font-weight="normal" fill="#000" textLength="115.2" lengthAdjust="spacingAndGlyphs">TNFA</text>
<text x="311.4" y="1718.0" font-size="36" text-anchor="start" font-family='"Liberation Serif", serif' font-weight="normal" fill="#000" >256</text>
<text x="467.7" y="1723.0" font-size="36" text-anchor="start" font-family='"Liberation Serif", serif' font-weight="normal" fill="#000" >150</text>
<text x="684.7" y="1725.3" font-size="36" text-anchor="start" font-family='"Liberation Serif", serif' font-weight="normal" fill="#000" >+1</text>
<rect x="210.9" y="1811.7" width="178.6" height="95.3" rx="12" fill="none" stroke="#1a1a1a" stroke-width="1.7" stroke-dasharray="5 3.7"/>
<line x1="139.0" y1="1878.0" x2="192.0" y2="1878.0" stroke="#000" stroke-width="4.2" />
<line x1="190.0" y1="1878.0" x2="706.0" y2="1878.8" stroke="#1a1a1a" stroke-width="3.4" />
<rect x="705.3" y="1866.8" width="274.5" height="15.4" fill="#000" />
<line x1="211.6" y1="1873.7" x2="251.5" y2="1873.7" stroke="#000" stroke-width="4.6" />
<path d="M277.2,1813.0 L281.2,1844.5 L299.2,1848.5 L281.2,1852.5 L277.2,1884.0 L273.2,1852.5 L255.2,1848.5 L273.2,1844.5 Z" fill="#000"/>
<path d="M314,1813.0 L318.0,1844.5 L336.5,1848.5 L318.0,1852.5 L314,1884.0 L310.0,1852.5 L291.5,1848.5 L310.0,1844.5 Z" fill="#000"/>
<rect x="377.4" y="1844.3" width="45.9" height="30.1" rx="5.4" fill="#fff" stroke="#000" stroke-width="1.7" />
<rect x="426.2" y="1819.8" width="12.8" height="57.2" rx="0" fill="#fff" stroke="#000" stroke-width="2" />
<rect x="345.0" y="1877.6" width="43.4" height="6.9" fill="#000" />
<line x1="346.3" y1="1877.6" x2="346.3" y2="1907.0" stroke="#000" stroke-width="4.6" />
<line x1="496.0" y1="1882.7" x2="496.0" y2="1909.5" stroke="#000" stroke-width="4.4" />
<rect x="677.2" y="1824.4" width="15.5" height="56.1" rx="0" fill="#fff" stroke="#000" stroke-width="2" />
<path d="M705.5,1868 V1820.5 H729.5" fill="none" stroke="#000" stroke-width="4.2"/>
<path d="M713.5,1810 L731.0,1820.5 L713.5,1831" fill="none" stroke="#000" stroke-width="4.2" stroke-linejoin="miter"/>
<text x="818.5" y="1835.7" font-size="43.5" text-anchor="start" font-family='"Liberation Serif", serif' font-weight="normal" fill="#000" >Ex1</text>
<text x="1026.4" y="1891.9" font-size="45" text-anchor="start" font-family='"Liberation Serif", serif' font-weight="normal" fill="#000" textLength="95.2" lengthAdjust="spacingAndGlyphs">IL1B</text>
<text x="311.4" y="1946.0" font-size="36" text-anchor="start" font-family='"Liberation Serif", serif' font-weight="normal" fill="#000" >256</text>
<text x="467.7" y="1950.5" font-size="36" text-anchor="start" font-family='"Liberation Serif", serif' font-weight="normal" fill="#000" >150</text>
<text x="684.7" y="1951.0" font-size="36" text-anchor="start" font-family='"Liberation Serif", serif' font-weight="normal" fill="#000" >+1</text>
<rect x="246.5" y="2003.8" width="12.9" height="56.9" rx="0" fill="#fff" stroke="#000" stroke-width="2" />
<text x="285.7" y="2045.7" font-size="36" text-anchor="start" font-family='"Liberation Serif", serif' font-weight="normal" fill="#000" textLength="88.3" lengthAdjust="spacingAndGlyphs">CEBP</text>
<path d="M451,1997.0 L455.0,2028.5 L472,2032.5 L455.0,2036.5 L451,2068.0 L447.0,2036.5 L430,2032.5 L447.0,2028.5 Z" fill="#000"/>
<text x="485.7" y="2045.7" font-size="36" text-anchor="start" font-family='"Liberation Serif", serif' font-weight="normal" fill="#000" textLength="98" lengthAdjust="spacingAndGlyphs">NF-κB</text>
<polygon points="640.0,2015.1 634.1,2019.9 626.2,2020.4 625.7,2027.8 620.5,2033.4 625.7,2039.0 626.2,2046.4 634.1,2046.9 640.0,2051.7 645.9,2046.9 653.8,2046.4 654.3,2039.0 659.5,2033.4 654.3,2027.8 653.8,2020.4 645.9,2019.9" fill="#d9d9d9" stroke="#555" stroke-width="2" stroke-linejoin="round"/>
<text x="691.4" y="2043.5" font-size="36" text-anchor="start" font-family='"Liberation Serif", serif' font-weight="normal" fill="#000" textLength="92.3" lengthAdjust="spacingAndGlyphs">GATA</text>
<rect x="829.4" y="2017.8" width="45.4" height="26.7" rx="5.4" fill="#fff" stroke="#000" stroke-width="1.7" />
<text x="911.2" y="2045.7" font-size="36" text-anchor="start" font-family='"Liberation Serif", serif' font-weight="normal" fill="#000" textLength="61.5" lengthAdjust="spacingAndGlyphs">AP1</text>
<rect x="1412.3" y="1997.1" width="50.0" height="231.2" fill="#1f1f1f" stroke="#000" stroke-width="3"/>
<rect x="1463.8" y="1567.0" width="50.5" height="661.3" fill="#737373" />
<rect x="1514.3" y="1691.3" width="50.3" height="537.0" fill="#a6a6a6" />
<rect x="1564.6" y="1926.0" width="53.4" height="302.3" fill="#e3e3e3" />
<rect x="1693.4" y="1997.1" width="49.7" height="231.2" fill="#1f1f1f" stroke="#000" stroke-width="3"/>
<rect x="1744.6" y="1797.6" width="50.6" height="430.7" fill="#737373" />
<rect x="1795.2" y="1850.3" width="52.8" height="378.0" fill="#a6a6a6" />
<rect x="1848.0" y="2014.0" width="50.8" height="214.3" fill="#e3e3e3" />
<line x1="1373.7" y1="1419.6" x2="1373.7" y2="2230.5" stroke="#000" stroke-width="4.4" />
<line x1="1362.2" y1="2228.3" x2="1940.5" y2="2228.3" stroke="#000" stroke-width="4.4" />
<line x1="1362.2" y1="1421.8" x2="1373.7" y2="1421.8" stroke="#000" stroke-width="4.4" />
<text x="1344.5" y="1433.6" font-size="37.5" text-anchor="end" font-family='"Liberation Serif", serif' font-weight="bold" fill="#000" >3.5</text>
<line x1="1362.2" y1="1537.0" x2="1373.7" y2="1537.0" stroke="#000" stroke-width="4.4" />
<text x="1344.5" y="1548.8" font-size="37.5" text-anchor="end" font-family='"Liberation Serif", serif' font-weight="bold" fill="#000" >3</text>
<line x1="1362.2" y1="1652.2" x2="1373.7" y2="1652.2" stroke="#000" stroke-width="4.4" />
<text x="1344.5" y="1664.0" font-size="37.5" text-anchor="end" font-family='"Liberation Serif", serif' font-weight="bold" fill="#000" >2.5</text>
<line x1="1362.2" y1="1767.4" x2="1373.7" y2="1767.4" stroke="#000" stroke-width="4.4" />
<text x="1344.5" y="1779.2" font-size="37.5" text-anchor="end" font-family='"Liberation Serif", serif' font-weight="bold" fill="#000" >2</text>
<line x1="1362.2" y1="1882.7" x2="1373.7" y2="1882.7" stroke="#000" stroke-width="4.4" />
<text x="1344.5" y="1894.5" font-size="37.5" text-anchor="end" font-family='"Liberation Serif", serif' font-weight="bold" fill="#000" >1.5</text>
<line x1="1362.2" y1="1997.9" x2="1373.7" y2="1997.9" stroke="#000" stroke-width="4.4" />
<text x="1344.5" y="2009.7" font-size="37.5" text-anchor="end" font-family='"Liberation Serif", serif' font-weight="bold" fill="#000" >1</text>
<line x1="1362.2" y1="2113.1" x2="1373.7" y2="2113.1" stroke="#000" stroke-width="4.4" />
<text x="1344.5" y="2124.9" font-size="37.5" text-anchor="end" font-family='"Liberation Serif", serif' font-weight="bold" fill="#000" >0.5</text>
<line x1="1362.2" y1="2228.3" x2="1373.7" y2="2228.3" stroke="#000" stroke-width="4.4" />
<text x="1344.5" y="2240.1" font-size="37.5" text-anchor="end" font-family='"Liberation Serif", serif' font-weight="bold" fill="#000" >0</text>
<line x1="1373.7" y1="2228.3" x2="1373.7" y2="2239.8" stroke="#000" stroke-width="4.4" />
<line x1="1654.6" y1="2228.3" x2="1654.6" y2="2239.8" stroke="#000" stroke-width="4.4" />
<line x1="1938.3" y1="2228.3" x2="1938.3" y2="2239.8" stroke="#000" stroke-width="4.4" />
<line x1="1437.7" y1="1962.3" x2="1437.7" y2="2036.1" stroke="#000" stroke-width="4.4" />
<line x1="1432.0" y1="1964.5" x2="1443.5" y2="1964.5" stroke="#000" stroke-width="4.4" />
<line x1="1432.0" y1="2033.9" x2="1443.5" y2="2033.9" stroke="#000" stroke-width="4.4" />
<line x1="1488.2" y1="1523.5" x2="1488.2" y2="1608.2" stroke="#000" stroke-width="4.4" />
<line x1="1482.5" y1="1525.7" x2="1494.0" y2="1525.7" stroke="#000" stroke-width="4.4" />
<line x1="1482.5" y1="1606.0" x2="1494.0" y2="1606.0" stroke="#000" stroke-width="4.4" />
<line x1="1540.7" y1="1638.9" x2="1540.7" y2="1746.1" stroke="#000" stroke-width="4.4" />
<line x1="1535.0" y1="1641.1" x2="1546.5" y2="1641.1" stroke="#000" stroke-width="4.4" />
<line x1="1535.0" y1="1743.9" x2="1546.5" y2="1743.9" stroke="#000" stroke-width="4.4" />
<line x1="1591.3" y1="1891.0" x2="1591.3" y2="1962.5" stroke="#000" stroke-width="4.4" />
<line x1="1585.5" y1="1893.2" x2="1597.0" y2="1893.2" stroke="#000" stroke-width="4.4" />
<line x1="1585.5" y1="1960.3" x2="1597.0" y2="1960.3" stroke="#000" stroke-width="4.4" />
<line x1="1720.2" y1="1959.7" x2="1720.2" y2="2036.1" stroke="#000" stroke-width="4.4" />
<line x1="1714.5" y1="1961.9" x2="1726.0" y2="1961.9" stroke="#000" stroke-width="4.4" />
<line x1="1714.5" y1="2033.9" x2="1726.0" y2="2033.9" stroke="#000" stroke-width="4.4" />
<line x1="1770.7" y1="1763.1" x2="1770.7" y2="1833.4" stroke="#000" stroke-width="4.4" />
<line x1="1765.0" y1="1765.3" x2="1776.5" y2="1765.3" stroke="#000" stroke-width="4.4" />
<line x1="1765.0" y1="1831.2" x2="1776.5" y2="1831.2" stroke="#000" stroke-width="4.4" />
<line x1="1821.5" y1="1828.6" x2="1821.5" y2="1872.7" stroke="#000" stroke-width="4.4" />
<line x1="1815.8" y1="1830.8" x2="1827.2" y2="1830.8" stroke="#000" stroke-width="4.4" />
<line x1="1815.8" y1="1870.5" x2="1827.2" y2="1870.5" stroke="#000" stroke-width="4.4" />
<line x1="1872.4" y1="1989.3" x2="1872.4" y2="2038.7" stroke="#000" stroke-width="4.4" />
<line x1="1866.7" y1="1991.5" x2="1878.2" y2="1991.5" stroke="#000" stroke-width="4.4" />
<line x1="1866.7" y1="2036.5" x2="1878.2" y2="2036.5" stroke="#000" stroke-width="4.4" />
<text transform="translate(1432.7,1939.8) scale(0.97,1)" x="0" y="0" font-size="38.5" text-anchor="middle" font-family='"Liberation Sans", sans-serif' fill="#000">c</text>
<text transform="translate(1489.6,1503.6) scale(0.97,1)" x="0" y="0" font-size="38.5" text-anchor="middle" font-family='"Liberation Sans", sans-serif' fill="#000">a</text>
<text transform="translate(1540.4,1612.0) scale(0.97,1)" x="0" y="0" font-size="38.5" text-anchor="middle" font-family='"Liberation Sans", sans-serif' fill="#000">a</text>
<text transform="translate(1596.0,1865.6) scale(0.95,1)" x="0" y="0" font-size="42" text-anchor="middle" font-family='"Liberation Sans", sans-serif' fill="#000">b</text>
<text transform="translate(1718.8,1934.6) scale(0.93,1)" x="0" y="0" font-size="40" text-anchor="middle" font-family='"Liberation Sans", sans-serif' fill="#000">B</text>
<text transform="translate(1769.4,1744.0) scale(0.94,1)" x="0" y="0" font-size="40" text-anchor="middle" font-family='"Liberation Sans", sans-serif' fill="#000">A</text>
<text transform="translate(1826.5,1817.6) scale(0.94,1)" x="0" y="0" font-size="40" text-anchor="middle" font-family='"Liberation Sans", sans-serif' fill="#000">A</text>
<text transform="translate(1871.8,1962.6) scale(0.93,1)" x="0" y="0" font-size="40" text-anchor="middle" font-family='"Liberation Sans", sans-serif' fill="#000">B</text>
<text x="1515.8" y="2283.5" font-size="36" text-anchor="middle" font-family='"Liberation Serif", serif' font-weight="bold" fill="#000" >TL1B</text>
<text x="1796.7" y="2283.5" font-size="36" text-anchor="middle" font-family='"Liberation Serif", serif' font-weight="bold" fill="#000" >TNFA</text>
<text transform="translate(1215.7,2074) rotate(-90)" x="0" y="0" font-size="46" textLength="562" lengthAdjust="spacingAndGlyphs" font-family='"Liberation Serif", serif' font-weight="bold" fill="#000">NF-κB Relative Binding rate</text>
<rect x="1830.0" y="1435.8" width="16.3" height="18.4" fill="#1f1f1f" />
<text x="1855.3" y="1454.7" font-size="36" text-anchor="start" font-family='"Liberation Serif", serif' font-weight="bold" fill="#000" >NC</text>
<rect x="1830.0" y="1486.6" width="16.3" height="18.4" fill="#737373" />
<text x="1855.3" y="1506.4" font-size="36" text-anchor="start" font-family='"Liberation Serif", serif' font-weight="bold" fill="#000" >LPS</text>
<rect x="1830.0" y="1539.3" width="16.3" height="16.0" fill="#a6a6a6" />
<text x="1855.3" y="1557.2" font-size="36" text-anchor="start" font-family='"Liberation Serif", serif' font-weight="bold" fill="#000" >E(10) + LPS</text>
<rect x="1830.0" y="1590.2" width="16.3" height="17.8" fill="#e3e3e3" />
<text x="1855.3" y="1609.4" font-size="36" text-anchor="start" font-family='"Liberation Serif", serif' font-weight="bold" fill="#000" >E(50) + LPS</text>
</svg>
</body></html>
